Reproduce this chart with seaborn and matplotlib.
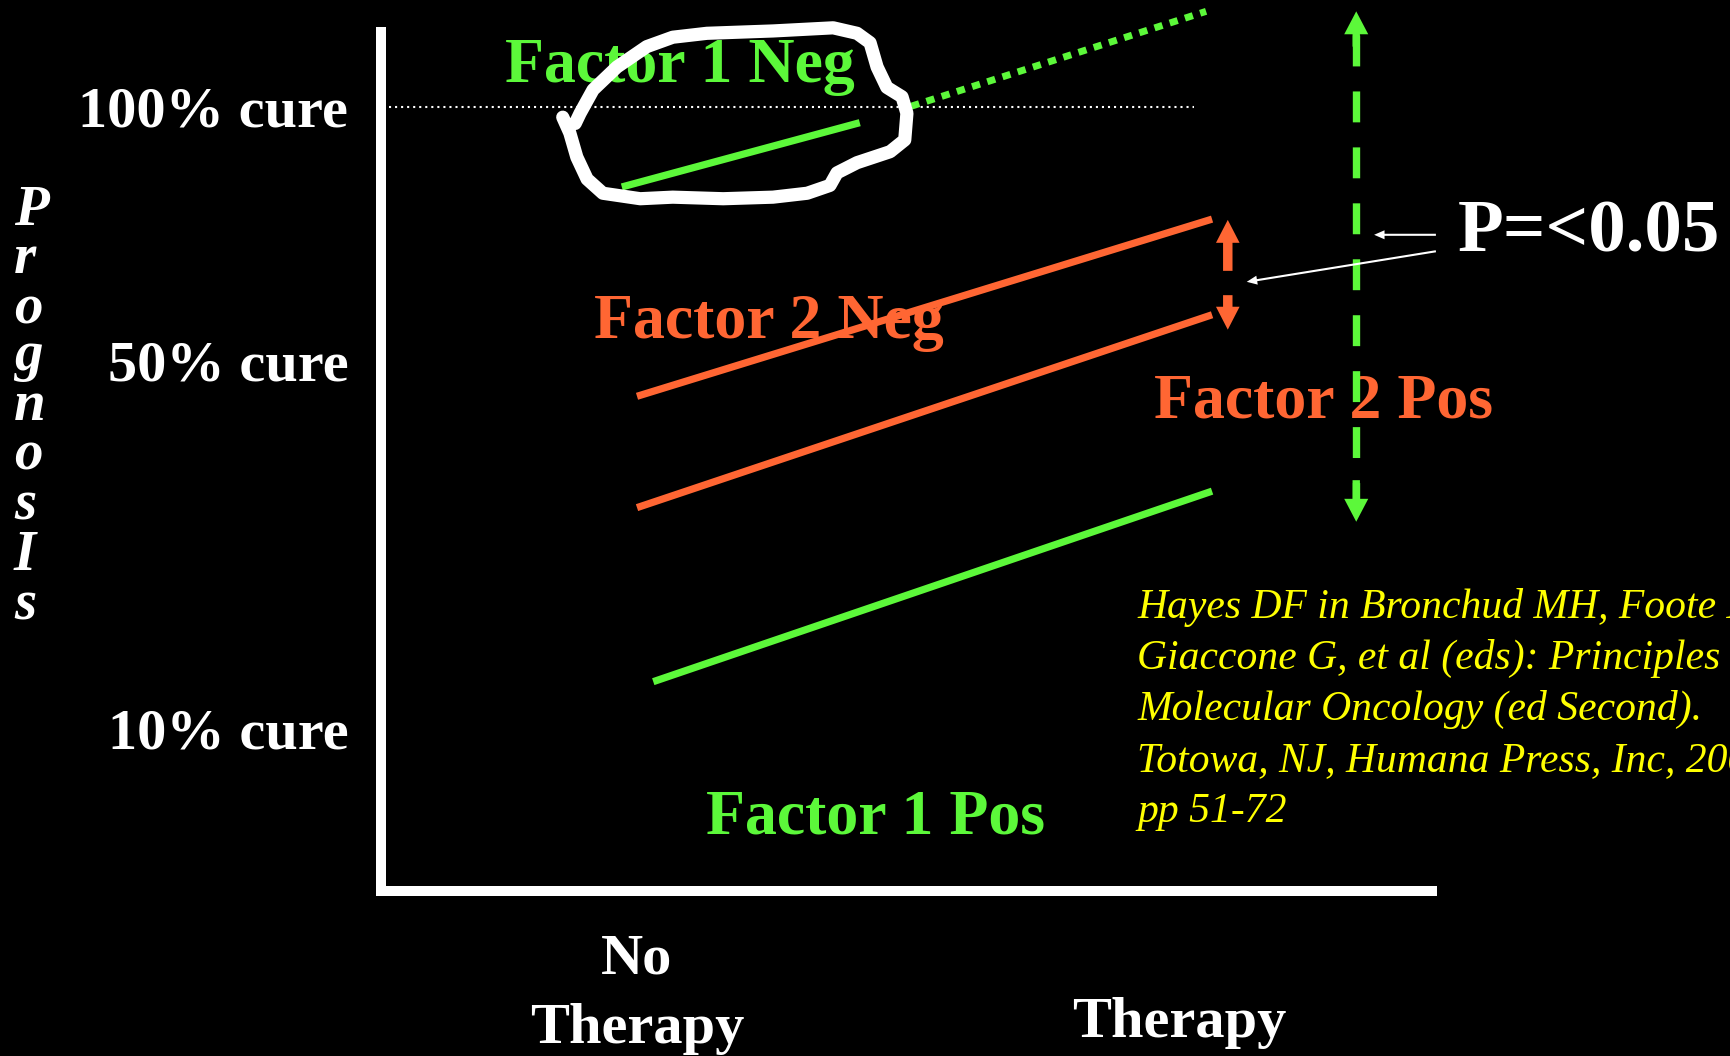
import matplotlib
matplotlib.use("Agg")
import matplotlib.pyplot as plt
import matplotlib.transforms as mtransforms
import numpy as np
import pandas as pd
import seaborn as sns

# ---------------- data ----------------
arm_labels = [["No", "Therapy"], ["Therapy"]]
arm_pos = [0.0, 1.0]

cure_ticks = [100, 67.7, 20.7]
cure_labels = ["100% cure", "50% cure", "10% cure"]

# prognosis score at the start (no therapy) and end (therapy) of each segment
f1neg_x = [-0.028, 0.411]
f1neg_y = [89.8, 98.0]
f1neg_ext_x = [0.506, 1.050]
f1neg_ext_y = [100.1, 112.2]
f2neg_x = [0.0, 1.061]
f2neg_y = [63.1, 85.7]
f2pos_x = [0.0, 1.061]
f2pos_y = [48.9, 73.5]
f1pos_x = [0.030, 1.061]
f1pos_y = [26.7, 51.0]

# 100% cure reference line
ref_x = [-0.457, 1.028]
ref_y = [100, 100]

# freehand ring drawn around the Factor 1 Neg segment
loop_x = [-0.137, -0.124, -0.111, -0.092, -0.063, 0.006, 0.066, 0.159, 0.251,
          0.314, 0.356, 0.369, 0.406, 0.467, 0.494, 0.498, 0.489, 0.461, 0.443,
          0.430, 0.406, 0.362, 0.251, 0.129, 0.066, 0.018, -0.037, -0.081,
          -0.105, -0.114]
loop_y = [98.7, 96.7, 93.6, 90.8, 89.0, 88.3, 88.5, 88.3, 88.5, 89.0, 90.0,
          91.6, 92.9, 94.3, 95.8, 99.2, 101.3, 102.5, 105.1, 108.2, 109.4,
          110.1, 109.7, 109.4, 108.9, 107.7, 105.1, 102.2, 99.2, 97.9]

# separation arrows
f2_gap_x = 1.090
f2_gap_up = [79.1, 85.6]
f2_gap_down = [76.0, 71.6]
f1_gap_x = 1.327
f1_gap_shaft = [109.2, 49.9]
f1_gap_tips = [112.2, 47.1]

# pointers from the p-value label
pointer_tails = [(1.474, 83.7), (1.474, 81.6)]
pointer_tips = [(1.360, 83.7), (1.125, 77.7)]

citation = ["Hayes DF in Bronchud MH, Foote M,",
            "Giaccone G, et al (eds): Principles of",
            "Molecular Oncology (ed Second).",
            "Totowa, NJ, Humana Press, Inc, 2004,",
            "pp 51-72"]

GREEN = "#5CF83A"
ORANGE = "#FF6633"
YELLOW = "#FFFF00"
WHITE = "#FFFFFF"

# ---------------- style ----------------
sns.set_theme(style="dark", rc={"axes.facecolor": "black",
                                "figure.facecolor": "black",
                                "axes.grid": False})
plt.rcParams["font.family"] = ["Liberation Serif", "DejaVu Serif"]

W, H = 1730, 1056
fig = plt.figure(figsize=(W / 100, H / 100), dpi=100)
fig.patch.set_facecolor("black")

ax_l, ax_r, ax_t, ax_b = 381, 1432, 32, 891
ax = fig.add_axes([ax_l / W, 1 - ax_b / H, (ax_r - ax_l) / W, (ax_b - ax_t) / H])
ax.set_facecolor("black")

def fx(x):
    return x / W

def fy(y):
    return 1 - y / H

# ---------------- lines ----------------
segments = pd.DataFrame({
    "series": ["f1neg"] * 2 + ["f2neg"] * 2 + ["f2pos"] * 2 + ["f1pos"] * 2,
    "x": f1neg_x + f2neg_x + f2pos_x + f1pos_x,
    "y": f1neg_y + f2neg_y + f2pos_y + f1pos_y,
})
palette = {"f1neg": GREEN, "f2neg": ORANGE, "f2pos": ORANGE, "f1pos": GREEN}
sns.lineplot(data=segments, x="x", y="y", hue="series", palette=palette,
             estimator=None, sort=False, legend=False, lw=5.2,
             solid_capstyle="butt", ax=ax, zorder=4)

ext = pd.DataFrame({"x": f1neg_ext_x, "y": f1neg_ext_y})
sns.lineplot(data=ext, x="x", y="y", color=GREEN, lw=5.0, estimator=None,
             sort=False, linestyle=(0, (1.2, 1.1)), dash_capstyle="butt",
             ax=ax, zorder=4)

ref = pd.DataFrame({"x": ref_x, "y": ref_y})
sns.lineplot(data=ref, x="x", y="y", color=WHITE, lw=1.5, estimator=None,
             sort=False, linestyle=(0, (1, 1.9)), dash_capstyle="butt",
             ax=ax, zorder=3)

ring = pd.DataFrame({"x": loop_x, "y": loop_y})
sns.lineplot(data=ring, x="x", y="y", color=WHITE, lw=9.5, estimator=None,
             sort=False, solid_capstyle="round", solid_joinstyle="round",
             ax=ax, zorder=5)

# dashed green separation arrow
ax.plot([f1_gap_x, f1_gap_x], f1_gap_shaft, color=GREEN, lw=5.3,
        dashes=(4.2, 3.4), dash_capstyle="butt", zorder=4, clip_on=False)
for base, tip in [(f1_gap_shaft[0] - 1.5, f1_gap_tips[0]),
                  (f1_gap_shaft[1] + 2.5, f1_gap_tips[1])]:
    ax.annotate("", xy=(f1_gap_x, tip), xytext=(f1_gap_x, base),
                arrowprops=dict(arrowstyle="simple,head_length=16.5,head_width=17.3,tail_width=5.3",
                                mutation_scale=1, color=GREEN, lw=0,
                                shrinkA=0, shrinkB=0),
                annotation_clip=False, zorder=4)

# orange separation arrows
for tail, tip in [f2_gap_up, f2_gap_down]:
    ax.annotate("", xy=(f2_gap_x, tip), xytext=(f2_gap_x, tail),
                arrowprops=dict(arrowstyle="simple,head_length=16.5,head_width=17,tail_width=6.8",
                                mutation_scale=1, color=ORANGE, lw=0,
                                shrinkA=0, shrinkB=0),
                annotation_clip=False, zorder=4)

# thin white pointers
for tail, tip in zip(pointer_tails, pointer_tips):
    ax.annotate("", xy=tip, xytext=tail,
                arrowprops=dict(arrowstyle="simple,head_length=7.5,head_width=6.5,tail_width=1.5",
                                mutation_scale=1, color=WHITE, lw=0,
                                shrinkA=0, shrinkB=0),
                annotation_clip=False, zorder=6)

for ln in ax.lines:
    ln.set_clip_on(False)

# ---------------- axes ----------------
ax.set_xlim((ax_l - 637) / 542, (ax_r - 637) / 542)
ax.set_ylim(0, (ax_b - ax_t) / 7.84)
for side in ["top", "right"]:
    ax.spines[side].set_visible(False)
for side in ["left", "bottom"]:
    ax.spines[side].set_color(WHITE)
    ax.spines[side].set_linewidth(7.2)
    ax.spines[side].set_capstyle("projecting")
    ax.spines[side].set_zorder(6)

ax.set_xticks([])
ax.set_xlabel("")
ax.set_ylabel("")
ax.set_yticks(cure_ticks)
ax.set_yticklabels(cure_labels, fontsize=42, fontweight="bold", color=WHITE)
ax.tick_params(axis="y", length=0, pad=23.5)

# arm labels under the x axis
blend = mtransforms.blended_transform_factory(ax.transData, fig.transFigure)
arm_baselines = [[973, 1043], [1037]]
for xpos, words, bases in zip(arm_pos, arm_labels, arm_baselines):
    for word, b in zip(words, bases):
        ax.text(xpos, fy(b), word, transform=blend, ha="center", va="baseline",
                fontsize=42, fontweight="bold", color=WHITE, clip_on=False)

# vertical "Prognosis" label, one letter per row
letters = list("PrognosIs")
letter_baselines = [225, 273, 323, 370, 420, 470, 520, 570, 620]
for ch, b in zip(letters, letter_baselines):
    ax.text(fx(14), fy(b), ch, transform=fig.transFigure, ha="left",
            va="baseline", fontsize=41, fontweight="bold", fontstyle="italic",
            color=WHITE, clip_on=False)

# series labels
def label(x, y, s, color, size=46):
    ax.text(fx(x), fy(y), s, transform=fig.transFigure, ha="left",
            va="baseline", fontsize=size, fontweight="bold", color=color,
            clip_on=False, zorder=1)

label(505, 82, "Factor 1 Neg", GREEN)
label(594, 338, "Factor 2 Neg", ORANGE)
label(1154, 417, "Factor 2 Pos", ORANGE)
label(706, 833, "Factor 1 Pos", GREEN)
label(1458, 252, "P=<0.05", WHITE, size=54)

for i, line in enumerate(citation):
    ax.text(fx(1137), fy(618 + i * 51), line, transform=fig.transFigure,
            ha="left", va="baseline", fontsize=30, fontstyle="italic",
            color=YELLOW, clip_on=False, zorder=1)

fig.savefig("out.png", dpi=100, facecolor="black")
